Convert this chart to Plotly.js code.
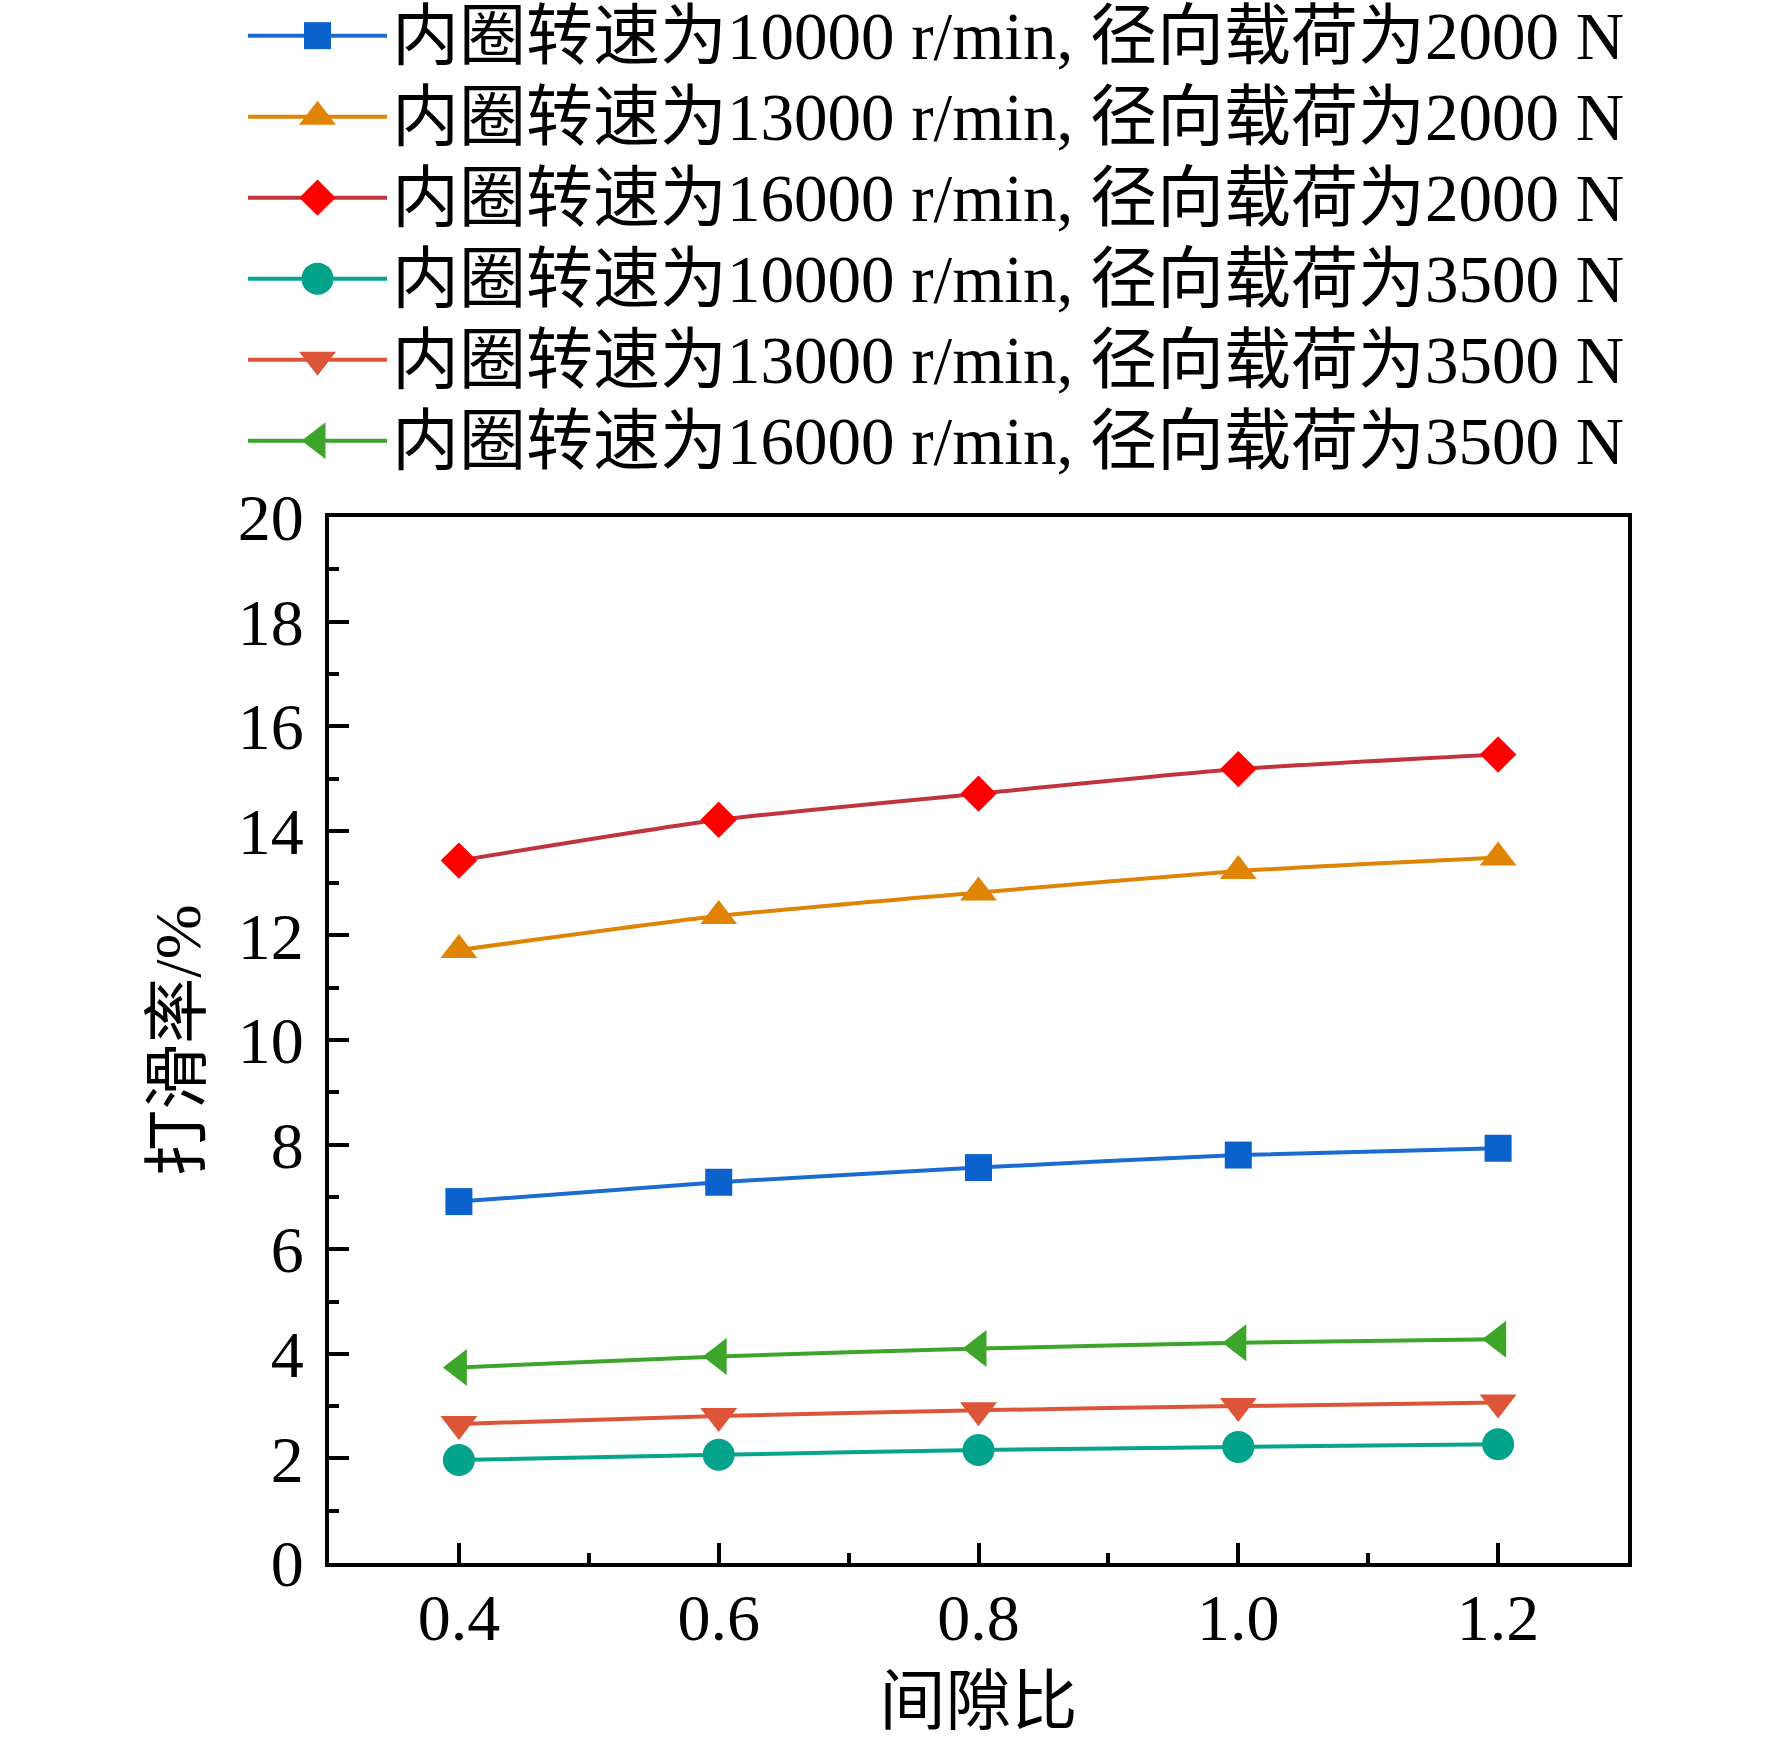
<!DOCTYPE html>
<html>
<head>
<meta charset="utf-8">
<script src="https://cdn.plot.ly/plotly-3.0.1.min.js"></script>
<style>
  html, body { margin: 0; padding: 0; background: #fff; }
  #chart { width: 1772px; height: 1742px; }
</style>
</head>
<body>
<div id="chart"></div>
<script>
// clearance ratio on x, slip ratio (%) on y
var gapRatio = [0.4, 0.6, 0.8, 1.0, 1.2];

var slip10k2000 = [6.91, 7.28, 7.56, 7.80, 7.93];
var slip13k2000 = [11.72, 12.37, 12.82, 13.23, 13.49];
var slip16k2000 = [13.43, 14.21, 14.71, 15.18, 15.46];
var slip10k3500 = [1.97, 2.07, 2.16, 2.22, 2.27];
var slip13k3500 = [2.66, 2.81, 2.92, 3.00, 3.07];
var slip16k3500 = [3.74, 3.95, 4.10, 4.21, 4.28];

var seriesNames = [
  "内圈转速为10000 r/min, 径向载荷为2000 N",
  "内圈转速为13000 r/min, 径向载荷为2000 N",
  "内圈转速为16000 r/min, 径向载荷为2000 N",
  "内圈转速为10000 r/min, 径向载荷为3500 N",
  "内圈转速为13000 r/min, 径向载荷为3500 N",
  "内圈转速为16000 r/min, 径向载荷为3500 N"
];

var xTicks = [0.4, 0.6, 0.8, 1.0, 1.2];
var xTickText = ["0.4", "0.6", "0.8", "1.0", "1.2"];
var yTicks = [0, 2, 4, 6, 8, 10, 12, 14, 16, 18, 20];

var FONT = "'Liberation Serif', 'Times New Roman', 'Noto Sans CJK SC', serif";
var LEGEND_MAX_MS = 16; // plotly caps legend marker size at 16

function series(y, i, lineColor, markColor, symbol, size){
  return {
    x: gapRatio,
    y: y,
    // legend box height follows legend.font.size, the span only makes the glyphs bigger
    name: '<span style="font-size:67px">' + seriesNames[i] + '</span>',
    type: 'scatter',
    mode: 'lines+markers',
    line: {color: lineColor, width: 4, shape: 'spline', smoothing: 0.6},
    marker: {color: markColor, symbol: symbol, size: size, line: {width: 0}}
  };
}

var data = [
  series(slip10k2000, 0, '#1a6cd0', '#0b62cc', 'square', 27),
  series(slip13k2000, 1, '#e08406', '#e08406', 'triangle-up', 32),
  series(slip16k2000, 2, '#c0343f', '#ff0000', 'diamond', 28),
  series(slip10k3500, 3, '#07a58c', '#03a28a', 'circle', 32),
  series(slip13k3500, 4, '#dd5538', '#dd5538', 'triangle-down', 32),
  series(slip16k3500, 5, '#3ca52a', '#3ca52a', 'triangle-left', 32)
];

var layout = {
  width: 1772,
  height: 1742,
  paper_bgcolor: '#fff',
  plot_bgcolor: '#fff',
  font: {family: FONT, size: 66, color: '#000'},
  margin: {l: 329, r: 144, t: 517, b: 179, pad: 0, autoexpand: false},
  showlegend: true,
  legend: {
    x: -0.0662, xanchor: 'left',
    y: 1.5037, yanchor: 'top',
    font: {family: FONT, size: 60, color: '#000'},
    itemwidth: 139,
    tracegroupgap: 0,
    bgcolor: 'rgba(0,0,0,0)'
  },
  xaxis: {
    range: [0.3, 1.3],
    tickmode: 'array',
    tickvals: xTicks,
    ticktext: xTickText,
    ticks: 'inside',
    ticklen: 20,
    tickwidth: 4,
    tickcolor: '#000',
    minor: {dtick: 0.1, tick0: 0.3, ticks: 'inside', ticklen: 10, tickwidth: 4, tickcolor: '#000'},
    showline: true,
    linewidth: 4,
    linecolor: '#000',
    mirror: true,
    showgrid: false,
    zeroline: false,
    tickfont: {family: FONT, size: 66},
    ticklabelstandoff: -6,
    title: {text: '间隙比', font: {family: FONT, size: 66}, standoff: 26}
  },
  yaxis: {
    range: [0, 20],
    tickmode: 'array',
    tickvals: yTicks,
    ticks: 'inside',
    ticklen: 20,
    tickwidth: 4,
    tickcolor: '#000',
    minor: {dtick: 1, ticks: 'inside', ticklen: 10, tickwidth: 4, tickcolor: '#000'},
    showline: true,
    linewidth: 4,
    linecolor: '#000',
    mirror: true,
    showgrid: false,
    zeroline: false,
    tickfont: {family: FONT, size: 66},
    ticklabelstandoff: 8,
    title: {text: '打滑率/%', font: {family: FONT, size: 66}, standoff: 17}
  }
};

Plotly.newPlot('chart', data, layout, {staticPlot: true}).then(function(gd){
  // grow the legend markers back to the size used in the plot
  var items = gd.querySelectorAll('.legend .traces');
  for(var i = 0; i < items.length; i++){
    var k = data[i].marker.size / LEGEND_MAX_MS;
    var pts = items[i].querySelectorAll('path.scatterpts');
    for(var j = 0; j < pts.length; j++){
      var t = pts[j].getAttribute('transform') || '';
      pts[j].setAttribute('transform', t + ' scale(' + k + ')');
    }
  }
});
</script>
</body>
</html>
